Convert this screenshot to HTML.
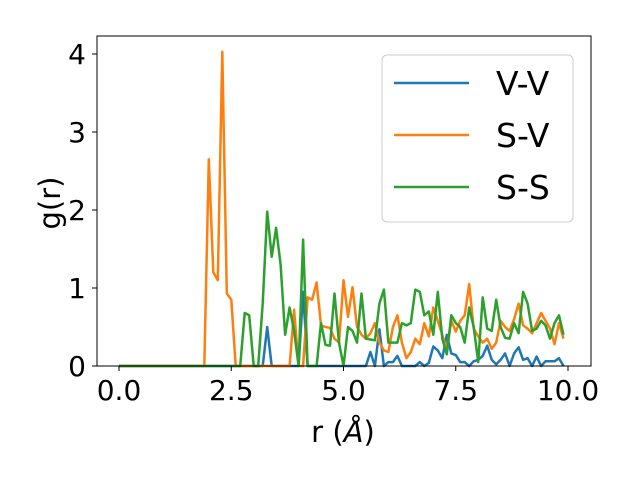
<!DOCTYPE html>
<html><head><meta charset="utf-8"><style>
body{margin:0;background:#fff}
svg{display:block;font-family:"DejaVu Sans","Liberation Sans",sans-serif}
</style></head><body>
<svg id="chart" width="640" height="480" viewBox="0 0 640 480">
<rect x="0" y="0" width="640" height="480" fill="#fff"/>
<g id="plot"></g>
</svg>
<script>
const rValues = Array.from({length:100},(_, i)=>+(i*0.1).toFixed(1));
const vv = [0,0,0,0,0,0,0,0,0,0, 0,0,0,0,0,0,0,0,0,0, 0,0,0,0,0,0,0,0,0,0,
 0,0,0,0.5,0,0,0,0,0,0, 0,0.95,0,0,0,0,0,0,0,0, 0,0,0,0,0,0,0.18,0,0.47,0,
 0.05,0.05,0.13,0,0,0,0,0.05,0,0.04, 0.25,0.2,0.1,0.4,0.16,0.14,0.05,0.05,0,0.06,
 0.08,0.13,0.26,0.08,0.02,0.08,0.16,0,0.16,0.24, 0.08,0.1,0,0.12,0,0.06,0.06,0.06,0.1,0];
const sv = [0,0,0,0,0,0,0,0,0,0, 0,0,0,0,0,0,0,0,0,0, 2.65,1.2,1.1,4.03,0.93,0.85,0,0,0,0,
 0,0,0,0,0,0,0,0,0,0.72, 0,0,0.88,0.85,1.07,0.52,0.5,0.49,0.35,0.3, 1.1,0.63,1.01,0.5,0.4,0.35,0.42,0.55,0.3,0.2,
 0.18,0.5,0.65,0.3,0.1,0.18,0.35,0.28,0.55,0.38, 0.75,0.58,0.4,0.2,0.58,0.44,0.58,0.65,1.05,0.48,
 0.38,0.3,0.35,0.22,0.3,0.58,0.5,0.45,0.6,0.8, 0.52,0.48,0.42,0.55,0.68,0.58,0.48,0.28,0.55,0.35];
const ss = [0,0,0,0,0,0,0,0,0,0, 0,0,0,0,0,0,0,0,0,0, 0,0,0,0,0,0,0,0,0.68,0.65,
 0,0,0.8,1.98,1.4,1.77,1.3,0.4,0.75,0.45, 0,1.62,0,0,0,0.55,0.27,0.26,0.93,0.3, 0,0.5,0.45,0.3,0.93,0.35,0.34,0.33,0.8,0.98,
 0.3,0.3,0.3,0.55,0.52,0.55,0.98,0.95,0.65,0.7, 0.4,0.95,0.35,0.15,0.65,0.55,0.5,0.3,0.75,0.5,
 0.05,0.88,0.48,0.45,0.85,0.5,0.36,0.35,0.55,0.42, 0.95,0.8,0.45,0.48,0.58,0.52,0.35,0.55,0.65,0.4];
const xTicks = [0,2.5,5,7.5,10];
const xTickLabels = ["0.0","2.5","5.0","7.5","10.0"];
const yTicks = [0,1,2,3,4];
const seriesNames = ["V-V","S-V","S-S"];
const seriesColors = ["#1f77b4","#ff7f0e","#2ca02c"];

const L=97,R=591,T=36,B=366;
const xs=r=>119+44.9*r;
const ys=v=>366-78*v;
const NS="http://www.w3.org/2000/svg";
const g=document.getElementById('plot');
function mk(tag,attrs,text){const e=document.createElementNS(NS,tag);for(const k in attrs)e.setAttribute(k,attrs[k]);if(text!=null)e.textContent=text;g.appendChild(e);return e;}

[vv,sv,ss].forEach((data,si)=>{
  const pts=data.map((v,i)=>xs(rValues[i]).toFixed(1)+','+ys(v).toFixed(1)).join(' ');
  const p=mk('polyline',{points:pts,fill:'none',stroke:seriesColors[si],'stroke-width':2.5,'stroke-linejoin':'round'});
  
  
});
const frame=mk('rect',{x:L,y:T,width:R-L,height:B-T,fill:'none',stroke:'#000','stroke-width':1});


xTicks.forEach((t,i)=>{
  const tk=mk('line',{x1:xs(t),x2:xs(t),y1:B,y2:B+5,stroke:'#000'});
  
  
  const lb=mk('text',{x:xs(t),y:B+34,'font-size':28,'text-anchor':'middle'},xTickLabels[i]);
  
  
});
yTicks.forEach(t=>{
  const tk=mk('line',{x1:L-5,x2:L,y1:ys(t),y2:ys(t),stroke:'#000'});
  
  
  const lb=mk('text',{x:L-11,y:ys(t)+10,'font-size':28,'text-anchor':'end'},String(t));
  
  
});
const xt=mk('text',{x:343,y:442,'font-size':29,'text-anchor':'middle'});
xt.innerHTML='r (<tspan font-style="italic">Å</tspan>)';


const yt=mk('text',{x:60,y:203,'font-size':29,'text-anchor':'middle',transform:'rotate(-90 60 203)'},'g(r)');


const lg=mk('rect',{x:382,y:55,width:191,height:167,rx:5,fill:'#fff','fill-opacity':0.8,stroke:'#ccc'});


seriesNames.forEach((n,i)=>{
  const y=83+52*i;
  const ln=mk('line',{x1:394,x2:469,y1:y,y2:y,stroke:seriesColors[i],'stroke-width':2.5});
  
  
  const tx=mk('text',{x:496,y:y+12,'font-size':33},n);
  
  
});
</script>
</body></html>
